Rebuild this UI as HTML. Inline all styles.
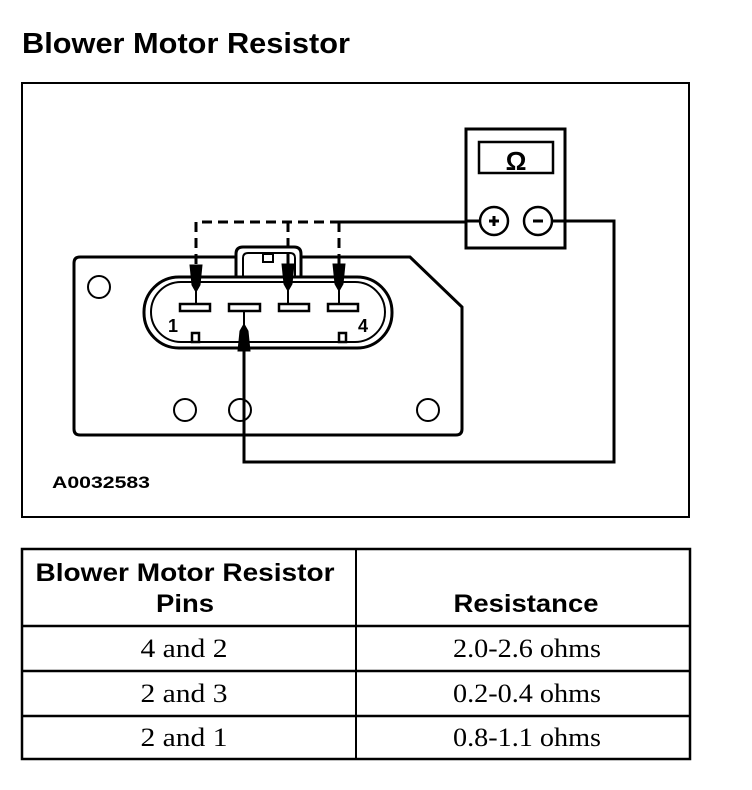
<!DOCTYPE html>
<html><head><style>html,body{margin:0;padding:0;background:#fff;}svg{display:block}</style></head>
<body>
<svg width="752" height="790" viewBox="0 0 752 790" xmlns="http://www.w3.org/2000/svg">
<g font-family="Liberation Sans, Arial, sans-serif" font-weight="bold" fill="#000">
<text x="22" y="53" font-size="29" textLength="328" lengthAdjust="spacingAndGlyphs">Blower Motor Resistor</text>
</g>
<rect x="22" y="83" width="667" height="434" fill="none" stroke="#000" stroke-width="2"/>
<path d="M80,257 L410,257 L462,307 L462,429 Q462,435 456,435 L80,435 Q74,435 74,429 L74,263 Q74,257 80,257 Z" fill="#fff" stroke="#000" stroke-width="3"/>
<path d="M236,277 L236,254 Q236,247 243,247 L294,247 Q301,247 301,254 L301,277" fill="#fff" stroke="#000" stroke-width="3"/>
<path d="M243,277 L243,258 Q243,253 248,253 L290,253 Q295,253 295,258 L295,277" fill="none" stroke="#000" stroke-width="2"/>
<rect x="263" y="254" width="10" height="8" fill="#fff" stroke="#000" stroke-width="2"/>
<rect x="144" y="277" width="248" height="71" rx="35" fill="#fff" stroke="#000" stroke-width="3"/>
<rect x="151" y="282" width="234" height="60" rx="30" fill="none" stroke="#000" stroke-width="2"/>
<g fill="#fff" stroke="#000" stroke-width="2.5">
<rect x="180" y="304" width="30" height="7"/>
<rect x="229" y="304" width="31" height="7"/>
<rect x="279" y="304" width="30" height="7"/>
<rect x="328" y="304" width="30" height="7"/>
<rect x="192" y="333" width="7" height="9"/>
<rect x="339" y="333" width="7" height="9"/>
</g>
<g font-family="Liberation Sans, Arial, sans-serif" font-weight="bold" font-size="18">
<text x="168" y="332">1</text><text x="358" y="332">4</text>
</g>
<g fill="#fff" stroke="#000" stroke-width="2">
<circle cx="99" cy="287" r="11"/><circle cx="185" cy="410" r="11"/><circle cx="240" cy="410" r="11"/><circle cx="428" cy="410" r="11"/>
</g>
<g stroke="#000" stroke-width="3" fill="none" stroke-dasharray="10,6">
<path d="M196,264 L196,222 L339,222"/>
<path d="M288,264 L288,222"/>
<path d="M339,264 L339,222"/>
</g>
<path d="M339,222 L480,222" stroke="#000" stroke-width="3"/>
<g fill="#000" stroke="#000">
<path d="M190,265 L202,265 L200,285 L196,292 L192,285 Z"/>
<line x1="196" y1="285" x2="196" y2="304" stroke-width="2"/>
<path d="M282,264 L294,264 L292,284 L288,291 L284,284 Z"/>
<line x1="288" y1="284" x2="288" y2="304" stroke-width="2"/>
<path d="M333,264 L345,264 L343,284 L339,291 L335,284 Z"/>
<line x1="339" y1="284" x2="339" y2="304" stroke-width="2"/>
<path d="M238,351 L250,351 L248,331 L244,324 L240,331 Z"/>
<line x1="244" y1="311" x2="244" y2="330" stroke-width="2"/>
</g>
<path d="M244,350 L244,462 L614,462 L614,221 L552,221" fill="none" stroke="#000" stroke-width="3"/>
<rect x="466" y="129" width="99" height="119" fill="#fff" stroke="#000" stroke-width="3"/>
<rect x="479" y="142" width="74" height="31" fill="#fff" stroke="#000" stroke-width="2.5"/>
<text x="516" y="170" font-family="Liberation Sans, Arial, sans-serif" font-weight="bold" font-size="26" text-anchor="middle">Ω</text>
<line x1="466" y1="221" x2="480" y2="221" stroke="#000" stroke-width="3"/>
<line x1="552" y1="221" x2="565" y2="221" stroke="#000" stroke-width="3"/>
<circle cx="494" cy="221" r="14" fill="#fff" stroke="#000" stroke-width="2.5"/>
<circle cx="538" cy="221" r="14" fill="#fff" stroke="#000" stroke-width="2.5"/>
<path d="M489,221 L499,221 M494,216 L494,226" stroke="#000" stroke-width="3"/>
<path d="M533,221 L543,221" stroke="#000" stroke-width="3"/>
<text x="52" y="488" font-family="Liberation Sans, Arial, sans-serif" font-weight="bold" font-size="17" textLength="98" lengthAdjust="spacingAndGlyphs">A0032583</text>
<g stroke="#000" fill="none">
<rect x="22" y="549" width="668" height="210" stroke-width="2.5"/>
<line x1="356" y1="549" x2="356" y2="759" stroke-width="2"/>
<line x1="22" y1="626" x2="690" y2="626" stroke-width="2.5"/>
<line x1="22" y1="671" x2="690" y2="671" stroke-width="2.5"/>
<line x1="22" y1="716" x2="690" y2="716" stroke-width="2.5"/>
</g>
<g font-family="Liberation Sans, Arial, sans-serif" font-weight="bold" font-size="25" text-anchor="middle">
<text x="185" y="581" textLength="299" lengthAdjust="spacingAndGlyphs">Blower Motor Resistor</text>
<text x="185" y="612" textLength="58" lengthAdjust="spacingAndGlyphs">Pins</text>
<text x="526" y="612" textLength="145" lengthAdjust="spacingAndGlyphs">Resistance</text>
</g>
<g font-family="Liberation Serif, Times New Roman, serif" font-size="26" text-anchor="middle">
<text x="184" y="657" textLength="87" lengthAdjust="spacingAndGlyphs">4 and 2</text>
<text x="184" y="702" textLength="87" lengthAdjust="spacingAndGlyphs">2 and 3</text>
<text x="184" y="746" textLength="87" lengthAdjust="spacingAndGlyphs">2 and 1</text>
<text x="527" y="657" textLength="148" lengthAdjust="spacingAndGlyphs">2.0-2.6 ohms</text>
<text x="527" y="702" textLength="148" lengthAdjust="spacingAndGlyphs">0.2-0.4 ohms</text>
<text x="527" y="746" textLength="148" lengthAdjust="spacingAndGlyphs">0.8-1.1 ohms</text>
</g>
</svg>
</body></html>
